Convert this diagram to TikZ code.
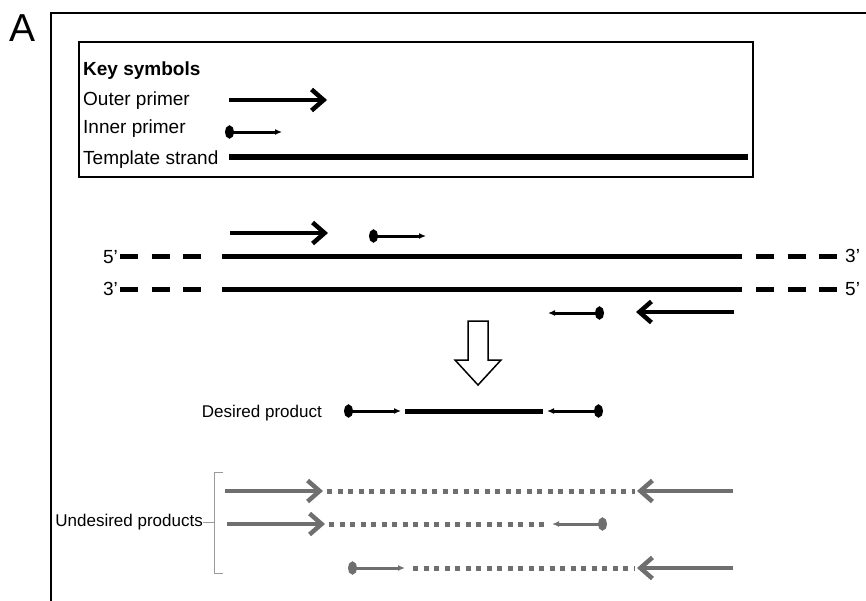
\documentclass[tikz,border=0pt]{standalone}
\usepackage{fontspec}
\setmainfont{Liberation Sans}
\usetikzlibrary{positioning,arrows.meta}
\definecolor{prodgray}{HTML}{6F6F6F}
\newcommand\txtsize{\fontsize{17}{20}\selectfont}
\newcommand\keysize{\fontsize{19}{22}\selectfont}
\tikzset{
  strand/.style={line width=5pt},
  flank/.style={line width=5pt, dash pattern=on 18pt off 13.5pt},
  outer primer/.style={line width=4.5pt, -{Straight Barb[length=12pt,width=21pt]}},
  inner primer/.style={line width=3pt, {Ellipse[length=9pt,width=13pt]}-{Latex[length=7pt,width=6pt]}},
  product gap/.style={line width=5pt, dash pattern=on 5pt off 5.5pt},
  keytext/.style={inner sep=0pt, anchor=base west, font=\keysize},
  endtext/.style={inner sep=0pt, font=\txtsize},
}

\begin{document}
\begin{tikzpicture}[x=1pt, y=-1pt]
  \useasboundingbox (0,0) rectangle (866,600);
  \clip (0,0) rectangle (866,600);

  \node [inner sep=0pt, anchor=base west, font=\fontsize{39}{40}\selectfont] (panel) at (9,41) {A};
  \draw [line width=2.5pt] (51,610) -- (51,13) -- (880,13);

  % key
  \draw [line width=2pt] (79,42) rectangle (753,177);
  \node [keytext, font=\keysize\bfseries] (key) at (83,75) {Key symbols};
  \node [keytext] (outer) at (83,105) {Outer primer};
  \node [keytext] (inner) at (83,133) {Inner primer};
  \node [keytext] (templ) at (83,164) {Template\ strand};
  \coordinate (ko1) at (229,100);
  \coordinate (ko2) at (327,100);
  \coordinate (ki1) at (225,132);
  \coordinate (ki2) at (282,132);
  \coordinate (kt1) at (229,157);
  \coordinate (kt2) at (748,157);
  \draw [outer primer] (ko1) -- (ko2);
  \draw [inner primer] (ki1) -- (ki2);
  \draw [line width=6pt] (kt1) -- (kt2);

  % template
  \coordinate (ta1) at (222,256);
  \coordinate (ta2) at (742,256);
  \coordinate (tb1) at (222,289);
  \coordinate (tb2) at (742,289);
  \coordinate (fa1) at (120,256);
  \coordinate (fa2) at (838,256);
  \coordinate (fb1) at (120,289);
  \coordinate (fb2) at (838,289);
  \draw [strand] (ta1) -- (ta2);
  \draw [strand] (tb1) -- (tb2);
  \draw [flank] (fa1) -- ([xshift=-20pt]ta1);
  \draw [flank] ([xshift=14pt]ta2) -- (fa2);
  \draw [flank] (fb1) -- ([xshift=-20pt]tb1);
  \draw [flank] ([xshift=14pt]tb2) -- (fb2);
  \node [endtext, font=\keysize, anchor=base east] (a5) at (118,263) {5’};
  \node [endtext, font=\keysize, anchor=base west] (a3) at (845,262) {3’};
  \node [endtext, font=\keysize, anchor=base east] (b3) at (118,295) {3’};
  \node [endtext, font=\keysize, anchor=base west] (b5) at (845,295) {5’};

  \coordinate (po1) at (230,233);
  \coordinate (po2) at (328,233);
  \coordinate (pi1) at (369,236);
  \coordinate (pi2) at (426,236);
  \coordinate (ri1) at (604,313);
  \coordinate (ri2) at (548,313);
  \coordinate (ro1) at (734,312);
  \coordinate (ro2) at (636,312);
  \draw [outer primer] (po1) -- (po2);
  \draw [inner primer] (pi1) -- (pi2);
  \draw [inner primer] (ri1) -- (ri2);
  \draw [outer primer] (ro1) -- (ro2);

  \draw [line width=1.5pt, fill=white, line join=miter]
    (468,321) -- (488,321) -- (488,360) -- (501,360) -- (478,385)
    -- (455,360) -- (468,360) -- cycle;

  % desired
  \node [endtext, anchor=base east] (desired) at (322,417) {Desired product};
  \coordinate (d1) at (344,411);
  \coordinate (d2) at (401,411);
  \coordinate (d3) at (405,411);
  \coordinate (d4) at (543,411);
  \coordinate (d5) at (547,411);
  \coordinate (d6) at (603,411);
  \draw [inner primer] (d1) -- (d2);
  \draw [strand] (d3) -- (d4);
  \draw [inner primer] (d6) -- (d5);

  % undesired
  \begin{scope}[prodgray]
    \node [endtext, anchor=base east, black] (undesired) at (203,526) {Undesired products};
    \coordinate (brace) at (214,522);
    \draw [line width=1pt, prodgray!70] (223,472) -- (214,472) -- (214,573) -- (223,573);
    \draw [line width=1pt, prodgray!70] (brace) -- (brace -| undesired.east);

    \coordinate (u11) at (225,491);
    \coordinate (u12) at (323,491);
    \coordinate (u13) at (635,491);
    \coordinate (u14) at (733,491);
    \draw [outer primer] (u11) -- (u12);
    \draw [product gap] ([xshift=4pt]u12) -- (u13);
    \draw [outer primer] (u14) -- ([xshift=2pt]u13);

    \coordinate (u21) at (227,524);
    \coordinate (u22) at (325,524);
    \coordinate (u23) at (548,524);
    \coordinate (u24) at (607,524);
    \draw [outer primer] (u21) -- (u22);
    \draw [product gap] ([xshift=4pt]u22) -- (u23);
    \draw [inner primer] (u24) -- ([xshift=4pt]u23);

    \coordinate (u31) at (348,568);
    \coordinate (u32) at (405,568);
    \coordinate (u33) at (635,568);
    \coordinate (u34) at (733,568);
    \draw [inner primer] (u31) -- (u32);
    \draw [product gap] ([xshift=8pt]u32) -- (u33);
    \draw [outer primer] (u34) -- ([xshift=2pt]u33);
  \end{scope}
\end{tikzpicture}
\end{document}
